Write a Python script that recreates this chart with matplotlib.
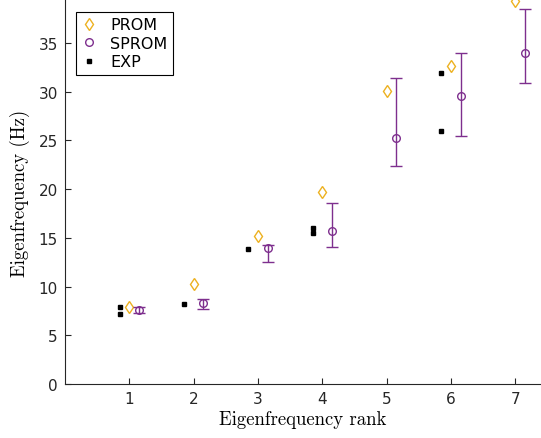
import matplotlib
matplotlib.use("Agg")
import matplotlib.pyplot as plt
from matplotlib.lines import Line2D
import numpy as np

# Eigenfrequency rank
rank = np.array([1, 2, 3, 4, 5, 6, 7])

# PROM eigenfrequencies (Hz)
prom = [7.9, 10.3, 15.2, 19.7, 30.1, 32.6, 39.3]

# SPROM mean and error bar bounds (Hz)
sprom = [7.6, 8.3, 14.0, 15.7, 25.2, 29.5, 33.9]
sprom_lo = [7.3, 7.7, 12.5, 14.1, 22.4, 25.4, 30.9]
sprom_hi = [7.9, 8.7, 14.3, 18.6, 31.4, 34.0, 38.5]

# Experimental values (rank, Hz)
exp_rank = [1, 1, 2, 3, 4, 4, 6, 6]
exp_val = [7.9, 7.2, 8.2, 13.8, 16.0, 15.5, 31.9, 26.0]

PROM_C = '#EDB120'
SPROM_C = '#7E2F8E'

fig = plt.figure(figsize=(5.41, 4.39), dpi=100)
ax = fig.add_axes([0.12, 0.123, 0.88, 0.875])

ax.plot(rank, prom, linestyle='none', marker='d', markersize=6,
        markerfacecolor='none', markeredgecolor=PROM_C, markeredgewidth=1.0)

sp = np.array(sprom)
yerr = [sp - np.array(sprom_lo), np.array(sprom_hi) - sp]
ax.errorbar(rank + 0.15, sprom, yerr=yerr, linestyle='none', marker='o',
            markersize=5.5, markerfacecolor='none', markeredgecolor=SPROM_C,
            markeredgewidth=1.0, ecolor=SPROM_C, elinewidth=1.0,
            capsize=4, capthick=1.0)

ax.plot(np.array(exp_rank) - 0.15, exp_val, linestyle='none', marker='s',
        markersize=2.2, color='black')

ax.set_xlim(0, 7.4)
ax.set_ylim(0, 39.4)
ax.set_xticks(rank)
ax.set_yticks(np.arange(0, 40, 5))
ax.tick_params(direction='in', length=4, labelsize=11, colors='#262626', pad=5)
for s in ['top', 'right']:
    ax.spines[s].set_visible(False)
for s in ['left', 'bottom']:
    ax.spines[s].set_color('#262626')

ax.set_xlabel('Eigenfrequency rank', fontname='cmr10', fontsize=13.5, labelpad=3)
ax.set_ylabel('Eigenfrequency (Hz)', fontname='cmr10', fontsize=13.5, labelpad=6)

handles = [
    Line2D([], [], linestyle='none', marker='d', markersize=6,
           markerfacecolor='none', markeredgecolor=PROM_C),
    Line2D([], [], linestyle='none', marker='o', markersize=5.5,
           markerfacecolor='none', markeredgecolor=SPROM_C),
    Line2D([], [], linestyle='none', marker='s', markersize=2.2, color='black'),
]
leg = ax.legend(handles, ['PROM', 'SPROM', 'EXP'], loc='upper left',
                bbox_to_anchor=(0.006, 0.99), fontsize=11.5,
                frameon=True, fancybox=False, edgecolor='black',
                handlelength=0.9, handletextpad=0.9, borderpad=0.35,
                labelspacing=0.22, numpoints=1)
leg.get_frame().set_linewidth(0.8)
leg.get_frame().set_alpha(1)

fig.savefig('out.png', dpi=100)
